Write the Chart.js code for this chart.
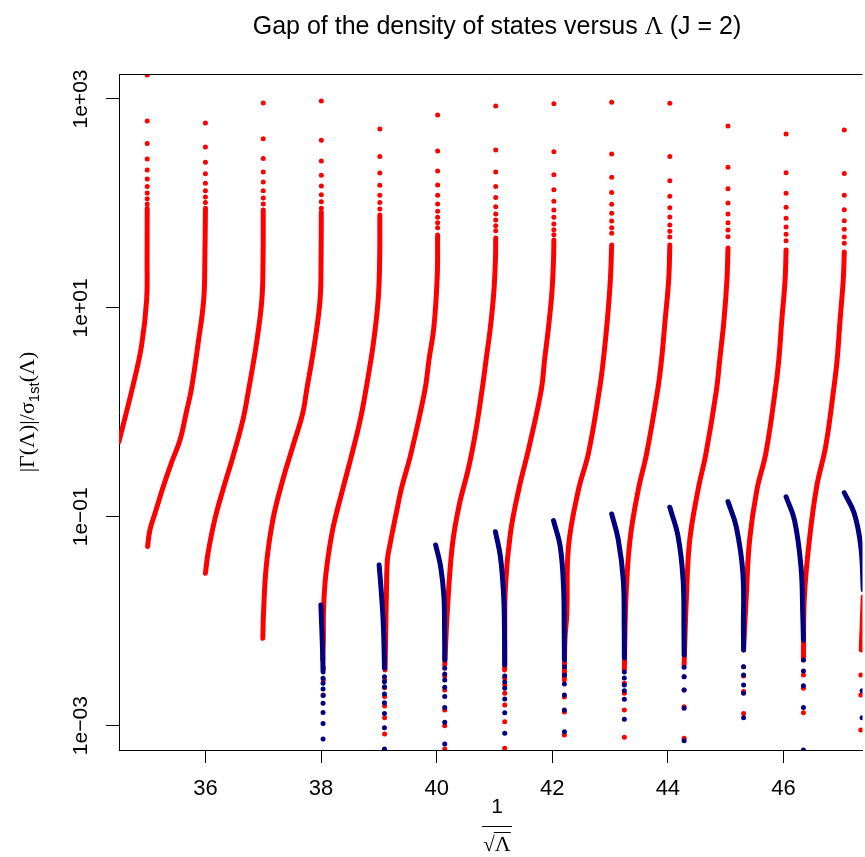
<!DOCTYPE html>
<html lang="en">
<head>
<meta charset="UTF-8">
<title>Gap of the density of states versus Λ (J = 2)</title>
<style>
  html, body { margin: 0; padding: 0; background: white; }
  canvas { display: block; }
</style>
</head>
<body>
<canvas id="gapChart" width="865" height="857"></canvas>
<script src="https://cdn.jsdelivr.net/npm/chart.js"></script>
<script>
// dense parts of the red branches, [1/sqrt(Lambda), |Gamma|/sigma]
const redCurves = [
  [[34.505,0.524],[34.77,2.04],[34.897,4.42],[34.983,11.9],[34.991,28.8],[34.992,62.2],[34.993,90]],
  [[35.0,0.052],[35.04,0.075],[35.13,0.109],[35.27,0.194],[35.41,0.327],[35.56,0.543],[35.678,1.05],[35.755,1.64],[35.87,4.42],[35.97,11.9],[35.99,28.8],[36.0,90]],
  [[36.0,0.0288],[36.045,0.0448],[36.16,0.0931],[36.303,0.181],[36.476,0.376],[36.648,0.845],[36.747,1.64],[36.879,4.42],[36.976,11.9],[36.997,28.8],[37.0,86.5]],
  [[36.993,0.00687],[37.005,0.0119],[37.052,0.0333],[37.166,0.0931],[37.338,0.225],[37.51,0.469],[37.683,0.979],[37.752,1.64],[37.884,4.42],[37.983,11.9],[38.0,28.8],[38.005,82.8]],
  [[38.031,0.00426],[38.04,0.0066],[38.045,0.0138],[38.086,0.0288],[38.2,0.0748],[38.372,0.181],[38.523,0.376],[38.678,0.845],[38.776,1.64],[38.902,4.42],[38.988,11.9],[39.014,28.8],[39.017,77.4]],
  [[39.109,0.00341],[39.117,0.0066],[39.131,0.0186],[39.148,0.0386],[39.186,0.0518],[39.324,0.125],[39.393,0.189],[39.557,0.406],[39.798,1.64],[39.867,3.17],[39.953,6.61],[40.01,19.8],[40.017,49.9]],
  [[40.14,0.00381],[40.183,0.0119],[40.269,0.0518],[40.384,0.125],[40.557,0.302],[40.68,0.678],[40.786,1.64],[40.855,3.17],[40.931,6.61],[40.988,13.9],[41.017,28.8],[41.022,46.7]],
  [[41.176,0.00341],[41.178,0.0066],[41.19,0.0214],[41.276,0.0695],[41.419,0.181],[41.6,0.469],[41.81,1.64],[41.867,3.17],[41.936,6.61],[41.993,13.9],[42.022,28.8],[42.028,44.7]],
  [[42.21,0.00274],[42.219,0.0066],[42.252,0.0119],[42.281,0.0518],[42.453,0.181],[42.626,0.406],[42.816,1.64],[42.884,3.17],[42.953,7.66],[43.005,18.5],[43.028,40.0]],
  [[43.247,0.00341],[43.276,0.0172],[43.345,0.060],[43.488,0.181],[43.634,0.406],[43.824,1.64],[43.89,3.17],[43.953,7.66],[44.014,18.5],[44.034,40.0]],
  [[44.281,0.00381],[44.321,0.0172],[44.379,0.060],[44.522,0.181],[44.66,0.406],[44.841,1.64],[44.897,3.17],[44.971,7.66],[45.022,18.5],[45.04,37.4]],
  [[45.31,0.00531],[45.356,0.0172],[45.414,0.060],[45.54,0.181],[45.695,0.406],[45.859,1.64],[45.919,3.17],[45.971,7.66],[46.028,18.5],[46.045,35.8]],
  [[46.345,0.00426],[46.362,0.0172],[46.448,0.060],[46.574,0.194],[46.729,0.469],[46.867,1.64],[46.928,3.17],[46.979,7.66],[47.034,18.5],[47.052,34.3]],
  [[47.345,0.00531],[47.38,0.0172]]
];

// sparse red points near the top of each branch (one column per branch)
const redTopX = [34.993, 36.0, 37.0, 38.005, 39.017, 40.017, 41.022, 42.028, 43.028, 44.034, 45.04, 46.045, 47.052];
const redTopY = [
  [98.8,111,126,145,171,209,266,374,616,1700],
  [102,115,132,156,192,248,347,589],
  [98.8,113,132,160,200,270,417,916],
  [89.9,104,121,147,186,255,403,957],
  [88.5,102,120,149,196,282,516],
  [58.6,65.4,73.7,84.1,98.8,120,150,205,318,703],
  [54.9,61.2,69.5,79.3,93.1,114,145,200,325,857],
  [50.2,56.1,63.6,73.7,86.5,105,135,188,313,902],
  [51.8,58.6,67.9,80.5,98.2,127,178,297,930],
  [47.8,54.1,62.2,74.2,91.0,117,165,281,910],
  [48.1,55.7,65.4,79.3,101,138,222,551],
  [44.0,50.7,59.5,72.1,91.9,125,197,463],
  [41.5,47.8,56.6,68.4,87.2,120,194,505]
];

// sparse red points at the foot of the branches from 38 on
const redLowX = [38.04, 39.10, 40.14, 41.178, 42.21, 43.247, 44.281, 45.31, 46.345, 47.338];
const redLowY = [
  [0.00356,0.00274,0.00197],
  [0.000833,0.00119,0.00154,0.0019,0.00231,0.00274],
  [0.000598,0.001,0.00141,0.0022,0.00299],
  [0.000608,0.00109,0.00158,0.00204,0.00245,0.00284],
  [0.000815,0.00135,0.00188],
  [0.000774,0.00141,0.00204,0.00255],
  [0.000757,0.00152,0.0022,0.00294],
  [0.00131,0.00212,0.00299,0.00367],
  [0.00133,0.00228,0.00306],
  [0.00091,0.00197,0.00306]
];

// dense parts of the blue branches
const blueCurves = [
  [[37.997,0.0143],[38.014,0.00824],[38.031,0.00426],[38.035,0.00327]],
  [[39.005,0.0346],[39.04,0.0199],[39.074,0.0103],[39.091,0.00531],[39.097,0.00356]],
  [[39.983,0.0537],[40.069,0.0333],[40.126,0.0172],[40.137,0.00824],[40.14,0.00426]],
  [[41.017,0.072],[41.103,0.0415],[41.16,0.0172],[41.175,0.0066],[41.178,0.00381]],
  [[42.022,0.0918],[42.138,0.0518],[42.195,0.0214],[42.207,0.00771],[42.21,0.00426]],
  [[43.028,0.1064],[43.143,0.060],[43.229,0.0248],[43.245,0.00824],[43.247,0.00445]],
  [[44.034,0.1234],[44.177,0.0646],[44.264,0.0248],[44.278,0.00824],[44.281,0.00475]],
  [[45.04,0.1396],[45.183,0.0804],[45.298,0.0288],[45.307,0.00824],[45.31,0.00531]],
  [[46.045,0.1556],[46.19,0.0931],[46.303,0.0333],[46.333,0.0119],[46.345,0.0066]],
  [[47.052,0.170],[47.224,0.108],[47.338,0.0518],[47.38,0.02]]
];

// sparse blue points under each blue branch
const blueLowX = [38.035, 39.097, 40.14, 41.178, 42.21, 43.247, 44.281, 45.31, 46.345, 47.36];
const blueLowY = [
  [0.00284,0.00255,0.00225,0.00194,0.00164,0.00134,0.00105,0.000746],
  [0.00294,0.00264,0.00236,0.00201,0.00166,0.00131,0.000957,0.000598],
  [0.00354,0.00313,0.00274,0.00233,0.0019,0.00149,0.00108,0.000668],
  [0.00299,0.00262,0.00228,0.0018,0.00133,0.000846],
  [0.00367,0.00306,0.00251,0.00197,0.00141,0.000877],
  [0.00327,0.00286,0.00245,0.00216,0.00179,0.00115],
  [0.00362,0.00294,0.0022,0.00147,0.000718],
  [0.00367,0.00306,0.00245,0.00204,0.00119],
  [0.00426,0.00334,0.00241,0.00149,0.000585],
  [0.00216,0.00119]
];

const xTicks = [36, 38, 40, 42, 44, 46];
const yTicks = [1e-3, 1e-1, 1e1, 1e3];
const yTickLabels = ['1e\u221203', '1e\u221201', '1e+01', '1e+03'];

const RED = '#ff0000';
const BLUE = '#000080';
const SANS = '"Liberation Sans", Arial, Helvetica, sans-serif';
const SERIF = '"Liberation Serif", "DejaVu Serif", serif';

const toXY = p => ({ x: p[0], y: p[1] });
function columns(xs, ys) {
  const out = [];
  xs.forEach((x, i) => ys[i].forEach(y => out.push({ x: x, y: y })));
  return out;
}

function curveSet(c, color, order) {
  return {
    data: c.map(toXY), showLine: true, borderColor: color, borderWidth: 5,
    borderCapStyle: 'round', borderJoinStyle: 'round', tension: 0.4,
    pointRadius: 0, pointHoverRadius: 0, order: order, clip: 0
  };
}
function dotSet(pts, color, order) {
  return {
    data: pts, showLine: false, backgroundColor: color, borderWidth: 0,
    pointRadius: 2.5, pointHoverRadius: 2.5, order: order, clip: 0
  };
}

const datasets = []
  .concat(redCurves.map(c => curveSet(c, RED, 2)))
  .concat([dotSet(columns(redTopX, redTopY).concat(columns(redLowX, redLowY)), RED, 2)])
  .concat(blueCurves.map(c => curveSet(c, BLUE, 1)))
  .concat([dotSet(columns(blueLowX, blueLowY), BLUE, 1)]);

// draw a line of text made of runs with different fonts, centred on cx
function drawRuns(ctx, runs, cx, baseline) {
  let total = 0;
  runs.forEach(r => { ctx.font = r[1]; total += ctx.measureText(r[0]).width; });
  let x = cx - total / 2;
  ctx.textAlign = 'left';
  ctx.textBaseline = 'alphabetic';
  runs.forEach(r => {
    ctx.font = r[1];
    ctx.fillText(r[0], x, baseline + (r[2] || 0));
    x += ctx.measureText(r[0]).width;
  });
  return { start: cx - total / 2, end: x };
}

const rLabels = {
  id: 'rLabels',
  afterDraw(chart) {
    const ctx = chart.ctx;
    const area = chart.chartArea;
    const ys = chart.scales.y;
    ctx.save();
    ctx.strokeStyle = '#000';
    ctx.lineWidth = 1;
    ctx.beginPath();
    ctx.moveTo(area.left, Math.round(area.top) + 0.5);
    ctx.lineTo(area.right, Math.round(area.top) + 0.5);
    ctx.stroke();

    ctx.fillStyle = '#000';
    // y tick labels, parallel to the axis as in R
    ctx.font = '21px ' + SANS;
    ctx.textAlign = 'center';
    ctx.textBaseline = 'alphabetic';
    yTicks.forEach((v, i) => {
      ctx.save();
      ctx.translate(87, ys.getPixelForValue(v));
      ctx.rotate(-Math.PI / 2);
      ctx.fillText(yTickLabels[i], 0, 0);
      ctx.restore();
    });

    const cx = 497;
    // title
    drawRuns(ctx, [
      ['Gap of the density of states versus ', '25px ' + SANS],
      ['\u039B', '25px ' + SERIF],
      [' (J = 2)', '25px ' + SANS]
    ], cx, 34);

    // y axis title
    ctx.save();
    ctx.translate(34, (area.top + area.bottom) / 2);
    ctx.rotate(-Math.PI / 2);
    drawRuns(ctx, [
      ['|\u0393(\u039B)|/\u03C3', '22px ' + SERIF],
      ['1st', '15px ' + SANS, 5],
      ['(\u039B)', '22px ' + SERIF]
    ], 0, 0);
    ctx.restore();

    // x axis title: 1 over sqrt(Lambda)
    ctx.font = '21px ' + SANS;
    ctx.textAlign = 'center';
    ctx.fillText('1', cx, 813);
    ctx.beginPath();
    ctx.moveTo(cx - 15, 826.5);
    ctx.lineTo(cx + 15, 826.5);
    ctx.stroke();
    const r = drawRuns(ctx, [['\u221A', '21px ' + SERIF], ['\u039B', '22px ' + SERIF]], cx, 851);
    ctx.font = '22px ' + SERIF;
    const lw = ctx.measureText('\u039B').width;
    ctx.beginPath();
    ctx.moveTo(r.end - lw - 1, 832.5);
    ctx.lineTo(r.end, 832.5);
    ctx.stroke();
    ctx.restore();
  }
};

new Chart(document.getElementById('gapChart'), {
  type: 'scatter',
  data: { datasets: datasets },
  plugins: [rLabels],
  options: {
    responsive: false,
    animation: false,
    events: [],
    devicePixelRatio: 1,
    layout: { padding: { top: 74, left: 0, right: 0, bottom: 0 } },
    plugins: { legend: { display: false }, tooltip: { enabled: false }, title: { display: false } },
    scales: {
      x: {
        type: 'linear', min: 34.505, max: 47.367,
        afterBuildTicks: s => { s.ticks = xTicks.map(v => ({ value: v })); },
        afterFit: s => { s.height = 107; },
        grid: { drawOnChartArea: false, drawTicks: true, tickLength: 13, color: '#000', lineWidth: 1 },
        border: { display: true, color: '#000', width: 1 },
        ticks: { color: '#000', font: { family: SANS, size: 22 }, padding: 13, maxRotation: 0, autoSkip: false }
      },
      y: {
        type: 'logarithmic', min: 5.85e-4, max: 1735,
        afterBuildTicks: s => { s.ticks = yTicks.map(v => ({ value: v })); },
        afterFit: s => { s.width = 119; },
        grid: { drawOnChartArea: false, drawTicks: true, tickLength: 13, color: '#000', lineWidth: 1 },
        border: { display: true, color: '#000', width: 1 },
        ticks: { display: false }
      }
    }
  }
});
</script>
</body>
</html>
